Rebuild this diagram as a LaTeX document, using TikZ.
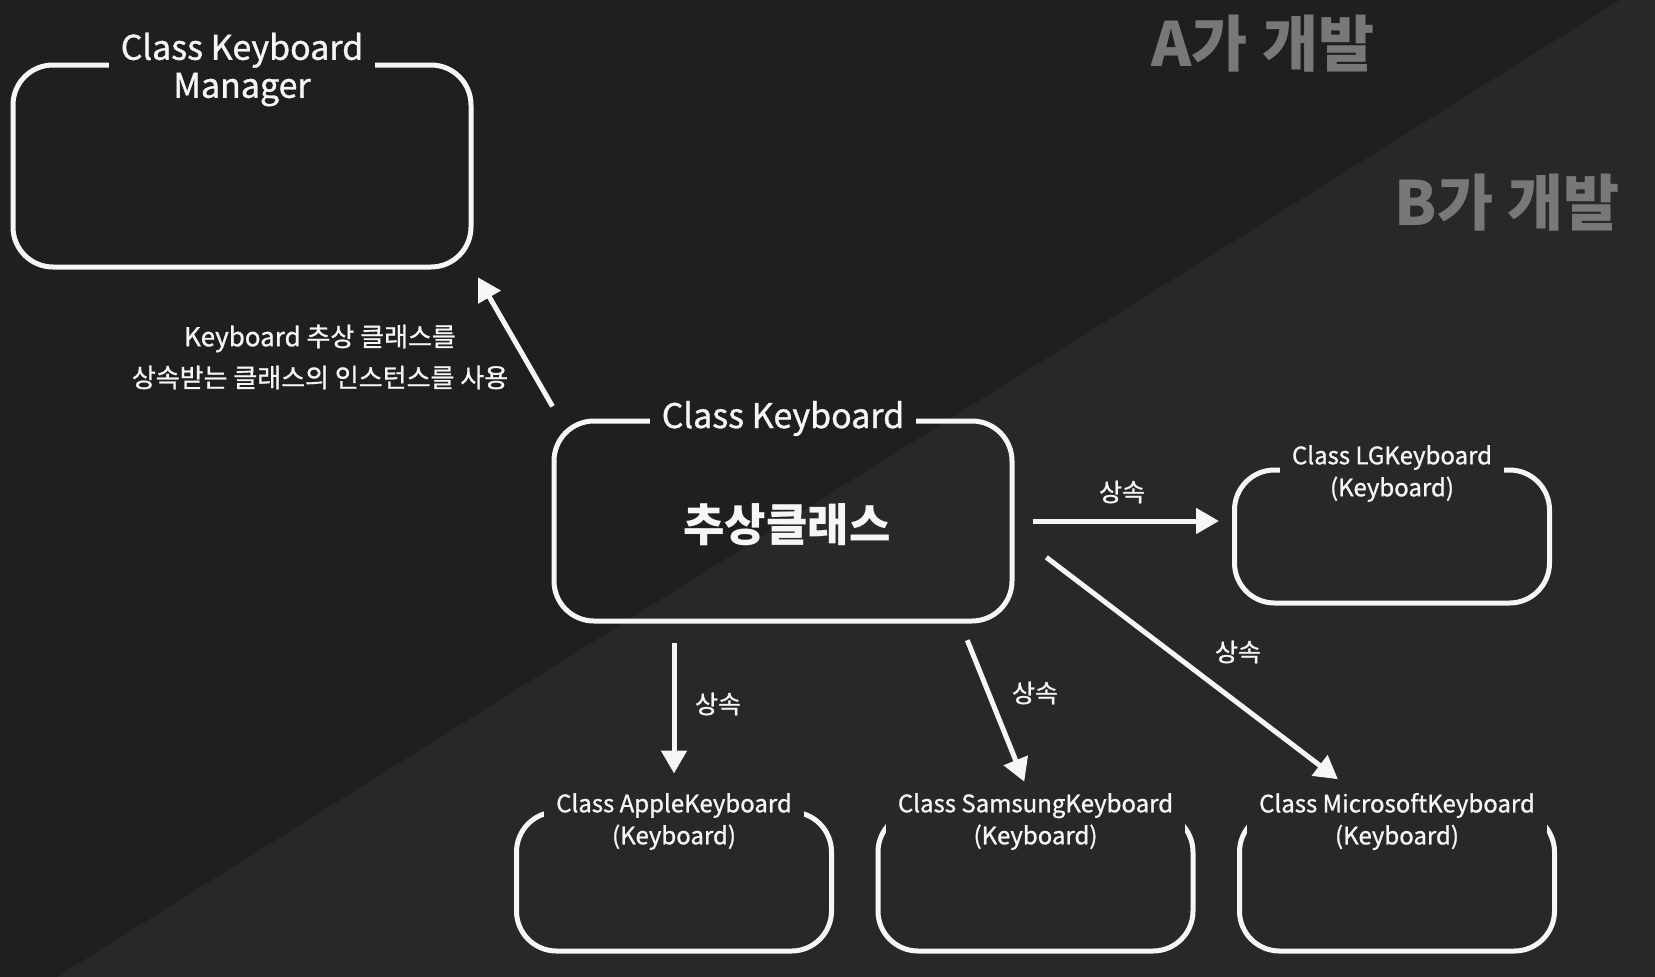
\documentclass[tikz,border=0pt]{standalone}
\usepackage{fontspec}
\setmainfont{Noto Sans CJK KR}[UprightFeatures={FakeBold=1.0}]
\usetikzlibrary{arrows.meta,positioning}
\definecolor{bgDark}{RGB}{31,31,31}
\definecolor{bgLight}{RGB}{40,40,40}
\definecolor{devGray}{RGB}{120,120,120}
\definecolor{lineWhite}{RGB}{246,246,246}

\begin{document}
\begin{tikzpicture}[
  x=1pt, y=-1pt,
  box/.style={rectangle, rounded corners=40pt, draw=lineWhite,
              line width=5pt, text=lineWhite, inner sep=0pt},
  bigbox/.style={box, minimum width=458pt, minimum height=202pt},
  subbox/.style={box, minimum width=315pt, minimum height=139pt},
  ttl/.style={fill=#1, text=lineWhite, align=center,
              inner xsep=12pt, inner ysep=3pt},
  bigttl/.style={ttl=#1, font=\fontsize{34}{38}\selectfont},
  subttl/.style={ttl=bgLight, font=\fontsize{24}{32}\selectfont},
  inh/.style={text=lineWhite, font=\fontsize{25}{28}\selectfont},
  devmark/.style={text=devGray, font=\bfseries\fontsize{61}{61}\selectfont},
  arr/.style={-{Triangle[length=23pt,width=25pt]}, line width=5pt,
              draw=lineWhite},
  node distance=41.5pt
]
  % background, split in two
  \useasboundingbox (0,0) rectangle (1655,977);
  \fill[bgDark] (0,0) rectangle (1655,977);
  \fill[bgLight] (57,977) -- (1620,0) -- (1655,0) -- (1655,977) -- cycle;
  \node[devmark] (devA) at (1263,44) {A가 개발};
  \node[devmark] (devB) at (1507,203) {B가 개발};

  % classes
  \node[bigbox] (mgr) at (242,166) {};
  \node[bigbox, minimum height=200pt] (kb) at (783,521) {};
  \node[text=lineWhite, font=\bfseries\fontsize{45}{45}\selectfont]
    (kbText) at (787,525) {추상클래스};
  \node[subbox, minimum height=133pt] (lg) at (1392,536.5) {};
  \node[subbox] (apple) at (674,881.5) {};
  \node[subbox, right=of apple] (samsung) {};
  \node[subbox, right=of samsung] (ms) {};

  % titles sit in the top lines
  \node[bigttl=bgDark] (mgrTtl) at ([yshift=-7pt]mgr.north) {Class Keyboard\\Manager};
  \node[bigttl=bgDark] (kbTtl) at (kb.north) {Class Keyboard};
  \node[subttl] (lgTtl) at ([yshift=-6pt]lg.north) {Class LGKeyboard\\(Keyboard)};
  \node[subttl] (appleTtl) at ([yshift=-12pt]apple.north) {Class AppleKeyboard\\(Keyboard)};
  \node[subttl] (samsungTtl) at ([yshift=-12pt]samsung.north) {Class SamsungKeyboard\\(Keyboard)};
  \node[subttl] (msTtl) at ([yshift=-12pt]ms.north) {Class MicrosoftKeyboard\\(Keyboard)};

  % arrows
  \draw[arr, shorten <=14pt, shorten >=9pt] ([xshift=8pt]kb.north west) -- (mgr.south east);
  \draw[arr, shorten <=18pt, shorten >=13pt] (kb.east) -- (kb.east -| lg.west);
  \draw[arr, shorten <=19pt, shorten >=36pt] (kb.south -| apple.north) -- (apple.north);
  \draw[arr, shorten <=18pt, shorten >=30pt] (kb.-30) -- (samsung.north);
  \draw[arr, shorten <=40pt, shorten >=50pt] (kb.-3) -- (ms.105);

  \node[text=lineWhite, align=center, font=\fontsize{26}{41}\selectfont]
    (useNote) at (320,357) {Keyboard 추상 클래스를\\상속받는 클래스의 인스턴스를 사용};
  \node[inh] (inhLG) at (1122,492) {상속};
  \node[inh] (inhApple) at (718,704) {상속};
  \node[inh] (inhSamsung) at (1035,693) {상속};
  \node[inh] (inhMs) at (1238,652) {상속};
\end{tikzpicture}
\end{document}
